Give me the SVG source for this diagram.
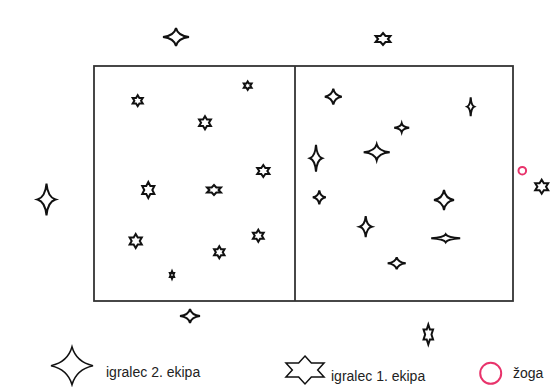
<svg xmlns="http://www.w3.org/2000/svg" xmlns:xlink="http://www.w3.org/1999/xlink" width="552" height="387" viewBox="0 0 552 387">
<style>
.field{fill:none;stroke:#333;stroke-width:1.8}
.sh{fill:#fff;stroke:#111;stroke-width:2;stroke-linejoin:miter;vector-effect:non-scaling-stroke}
.lgs{fill:#fff;stroke:#111;stroke-width:1.5;stroke-linejoin:miter;vector-effect:non-scaling-stroke}
.lg{font-family:"Liberation Sans",Arial,sans-serif;font-size:14px;fill:#222}
.ball{fill:none;stroke:#e8336b;stroke-width:2}
</style>
<defs>
<path id="s4" class="sh" d="M0,-1 Q0.14,-0.14 1,0 Q0.14,0.14 0,1 Q-0.14,0.14 -1,0 Q-0.14,-0.14 0,-1Z"/>
<path id="s6" class="sh" d="M0,-1 L0.289,-0.5 L0.866,-0.5 L0.577,0 L0.866,0.5 L0.289,0.5 L0,1 L-0.289,0.5 L-0.866,0.5 L-0.577,0 L-0.866,-0.5 L-0.289,-0.5Z"/>
<path id="l4" class="lgs" d="M0,-1 Q0.2,-0.2 1,0 Q0.2,0.2 0,1 Q-0.2,0.2 -1,0 Q-0.2,-0.2 0,-1Z"/>
<path id="l6" class="lgs" d="M0,-1 L0.289,-0.5 L0.866,-0.5 L0.577,0 L0.866,0.5 L0.289,0.5 L0,1 L-0.289,0.5 L-0.866,0.5 L-0.577,0 L-0.866,-0.5 L-0.289,-0.5Z"/>
</defs>
<rect width="552" height="387" fill="#fff"/>
<g id="field">
<rect class="field" x="94" y="66" width="419" height="235"/>
<line class="field" x1="295" y1="66" x2="295" y2="301"/>
</g>
<g id="team1">
<use id="t1a" xlink:href="#s6" transform="translate(137.7,100.7) scale(5.8,5.5)"/>
<use id="t1b" xlink:href="#s6" transform="translate(247.7,85.7) scale(4.5,4.2)"/>
<use id="t1c" xlink:href="#s6" transform="translate(205,122.7) scale(6.8,6.5)"/>
<use id="t1d" xlink:href="#s6" transform="translate(263.3,171) scale(7,6)"/>
<use id="t1e" xlink:href="#s6" transform="translate(148.3,190) scale(7,8)"/>
<use id="t1f" xlink:href="#s6" transform="translate(214,190) scale(8,5)"/>
<use id="t1g" xlink:href="#s6" transform="translate(135.7,241) scale(7,7)"/>
<use id="t1h" xlink:href="#s6" transform="translate(258.3,235.7) scale(6.2,6)"/>
<use id="t1i" xlink:href="#s6" transform="translate(219.3,252.3) scale(6,6)"/>
<use id="t1j" xlink:href="#s6" transform="translate(172,275) scale(2.5,3.8)"/>
<use id="t1k" xlink:href="#s6" transform="translate(383,39) scale(8.5,6)"/>
<use id="t1l" xlink:href="#s6" transform="translate(541.7,186.7) scale(7.5,7)"/>
<use id="t1m" xlink:href="#s6" transform="translate(428.3,334.5) scale(5.5,10)"/>
</g>
<g id="team2">
<use id="t2a" xlink:href="#s4" transform="translate(176,37) scale(13,9)"/>
<use id="t2b" xlink:href="#s4" transform="translate(46.5,199.5) scale(9,16)"/>
<use id="t2c" xlink:href="#s4" transform="translate(190,316) scale(10,7)"/>
<use id="t2d" xlink:href="#s4" transform="translate(333.3,96.7) scale(8.5,8)"/>
<use id="t2e" xlink:href="#s4" transform="translate(470.7,106.7) scale(3.5,9.5)"/>
<use id="t2f" xlink:href="#s4" transform="translate(401.7,127.7) scale(7.5,4.5)"/>
<use id="t2g" xlink:href="#s4" transform="translate(376.7,152.3) scale(13,8)"/>
<use id="t2h" xlink:href="#s4" transform="translate(316,158.3) scale(6,13.5)"/>
<use id="t2i" xlink:href="#s4" transform="translate(319.3,197.3) scale(6.5,7)"/>
<use id="t2j" xlink:href="#s4" transform="translate(444,200) scale(10,10)"/>
<use id="t2k" xlink:href="#s4" transform="translate(365.7,226.7) scale(6,10.5)"/>
<use id="t2l" xlink:href="#s4" transform="translate(445.7,238.3) scale(14.5,4)"/>
<use id="t2m" xlink:href="#s4" transform="translate(396.7,263.3) scale(9,6)"/>
</g>
<g id="ball">
<circle class="ball" cx="522.3" cy="170.7" r="3.8" stroke-width="1.3"/>
</g>
<g id="legend-team2">
<use xlink:href="#l4" transform="translate(72,365.7) scale(21,19)"/>
<text class="lg" x="106" y="377">igralec 2. ekipa</text>
</g>
<g id="legend-team1">
<use xlink:href="#l6" transform="translate(305,370) scale(22,14)"/>
<text class="lg" x="331" y="381">igralec 1. ekipa</text>
</g>
<g id="legend-ball">
<circle class="ball" cx="490.7" cy="373.3" r="10.5"/>
<text class="lg" x="513" y="378">žoga</text>
</g>
</svg>
